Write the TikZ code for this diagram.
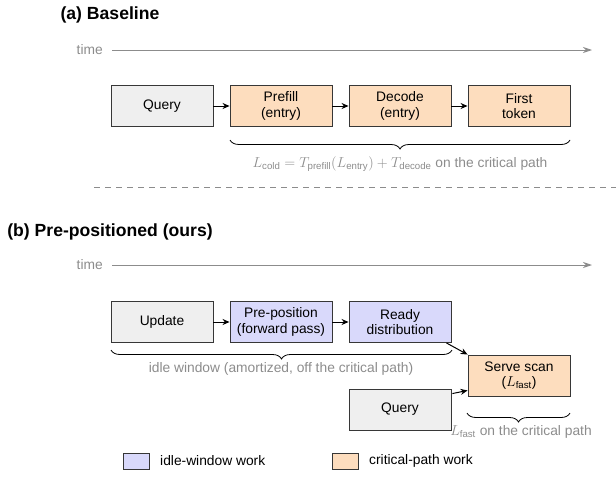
\documentclass[tikz,border=0pt]{standalone}
\usepackage{amsmath}
\usepackage{fontspec}
\setmainfont{Liberation Sans}
\usetikzlibrary{arrows.meta,decorations.pathreplacing,calc}
\definecolor{boxgray}{RGB}{239,239,239}
\definecolor{critorange}{RGB}{253,221,190}
\definecolor{idleblue}{RGB}{217,217,251}
\definecolor{edgegray}{RGB}{55,55,55}
\definecolor{labelgray}{RGB}{140,140,140}
\begin{document}
\begin{tikzpicture}[x=1pt,y=-1pt,
  font=\fontsize{13.8}{15.5}\selectfont,
  box/.style={draw=edgegray,line width=0.9pt,minimum width=102pt,minimum height=41pt,inner sep=0pt,align=center},
  plainbox/.style={box,fill=boxgray},
  critbox/.style={box,fill=critorange},
  idlebox/.style={box,fill=idleblue},
  arr/.style={-{Stealth[length=7pt,width=6pt]},line width=1pt,black},
  timeline/.style={-{Stealth[length=9pt,width=6pt]},labelgray,line width=0.9pt},
  note/.style={text=labelgray,inner sep=0pt},
  titletext/.style={font=\fontsize{17.6}{20}\selectfont\bfseries,inner sep=0pt},
  brc/.style={decorate,decoration={brace,mirror,amplitude=9pt},line width=0.8pt},
  legendbox/.style={draw=edgegray,line width=0.9pt,minimum width=26pt,minimum height=16pt,inner sep=0pt}
]
\path[use as bounding box] (0,0) rectangle (616,477);

% ---------- (a) Baseline ----------
\node[titletext] (ta) at (110,15) {(a) Baseline};
\node[note,anchor=east] (time1) at (103,50) {time};
\coordinate (t1s) at (112,50);
\coordinate (t1e) at (592,50);
\draw[timeline] (t1s) -- (t1e);

\node[plainbox] (qa) at (162,106) {Query};
\node[critbox] (pf) at (281,106) {Prefill\\(entry)};
\node[critbox] (dc) at (400,106) {Decode\\(entry)};
\node[critbox] (ft) at (519,106) {First\\token};
\draw[arr] (qa) -- (pf);
\draw[arr] (pf) -- (dc);
\draw[arr] (dc) -- (ft);

\coordinate (ba1) at (230,140);
\coordinate (ba2) at (570,140);
\draw[brc] (ba1) -- (ba2);
\node[note] (lcold) at (400,164) {$L_{\text{cold}} = T_{\text{prefill}}(L_{\text{entry}}) + T_{\text{decode}}$ on the critical path};

\coordinate (d1) at (94,187);
\coordinate (d2) at (616,187);
\draw[labelgray,line width=0.8pt,dash pattern=on 6pt off 5pt] (d1) -- (d2);

% ---------- (b) Pre-positioned ----------
\node[titletext] (tb) at (110,232) {(b) Pre-positioned (ours)};
\node[note,anchor=east] (time2) at (103,265) {time};
\coordinate (t2s) at (112,265);
\coordinate (t2e) at (592,265);
\draw[timeline] (t2s) -- (t2e);

\node[plainbox] (up) at (162,322) {Update};
\node[idlebox] (pp) at (281,322) {Pre-position\\(forward pass)};
\node[idlebox] (rd) at (400,322) {Ready\\distribution};
\node[critbox] (ss) at (519,375.5) {Serve scan\\($L_{\text{fast}}$)};
\node[plainbox] (qb) at (400,409.5) {Query};
\draw[arr] (up) -- (pp);
\draw[arr] (pp) -- (rd);
\draw[arr] ($(rd.south east)+(-5,0)$) -- (ss.north west);
\draw[arr] ($(qb.north east)+(1,5)$) -- ($(ss.south west)+(0,-6)$);

\coordinate (bb1) at (111,350);
\coordinate (bb2) at (452,350);
\draw[brc] (bb1) -- (bb2);
\node[note] (idlel) at (281,369) {idle window (amortized, off the critical path)};

\coordinate (bc1) at (467,413);
\coordinate (bc2) at (570,413);
\draw[brc] (bc1) -- (bc2);
\node[note] (lfast) at (521,432) {$L_{\text{fast}}$ on the critical path};

% ---------- legend ----------
\node[legendbox,fill=idleblue] (lg1) at (136,461) {};
\node[anchor=west,inner sep=0pt] (lg1t) at (160,461) {idle-window work};
\node[legendbox,fill=critorange] (lg2) at (345,461) {};
\node[anchor=west,inner sep=0pt] (lg2t) at (369,461) {critical-path work};
\end{tikzpicture}
\end{document}
